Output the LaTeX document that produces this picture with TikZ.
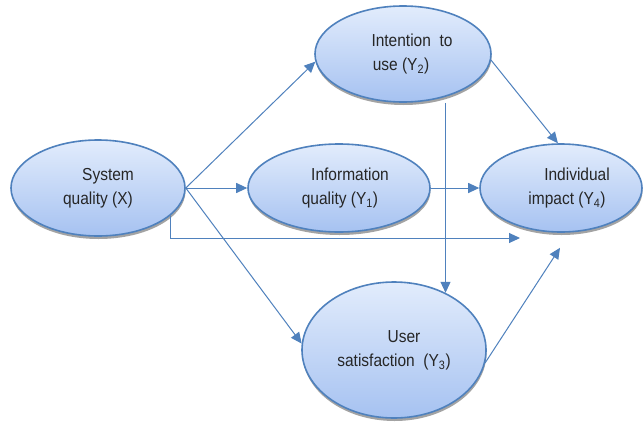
\documentclass[tikz,border=0pt]{standalone}
\usepackage{fontspec}
\setmainfont{Liberation Sans}
\usetikzlibrary{shapes.geometric,arrows.meta,shadows}
\definecolor{edgeblue}{HTML}{4F81BD}
\definecolor{filltop}{HTML}{E2ECFC}
\definecolor{fillbot}{HTML}{A6C2F1}
\definecolor{txt}{HTML}{262626}
\newcommand{\txtline}[2]{\makebox[0pt]{\hspace*{#1}\scalebox{1}[1.12]{#2}}}
\tikzset{
  var/.style={ellipse, draw=edgeblue, line width=1.6pt, inner sep=0pt,
    top color=filltop, bottom color=fillbot, text=txt, align=center,
    font={\fontsize{15.5pt}{24pt}\selectfont},
    drop shadow={shadow xshift=0.5pt, shadow yshift=-3pt, fill=black!45, opacity=0.8}},
  arr/.style={draw=edgeblue, line width=1pt, -{Triangle[length=11pt,width=10pt]}}
}
\begin{document}
\begin{tikzpicture}[x=1pt,y=-1pt]
\fill[white] (0,0) rectangle (644,423);
\useasboundingbox (0,0) rectangle (644,423);
\node[var, minimum width=174pt, minimum height=96pt] (sq) at (98,188)
  {\txtline{20pt}{System}\\\txtline{0pt}{quality (X)}};
\node[var, minimum width=176pt, minimum height=96pt] (iu) at (403,54)
  {\txtline{18pt}{Intention\ \ to}\\\txtline{-4pt}{use (Y\textsubscript{2})}};
\node[var, minimum width=182pt, minimum height=88pt] (iy) at (339,188)
  {\txtline{22pt}{Information}\\\txtline{2pt}{quality (Y\textsubscript{1})}};
\node[var, minimum width=162pt, minimum height=88pt] (ii) at (561,188)
  {\txtline{32pt}{Individual}\\\txtline{12pt}{impact (Y\textsubscript{4})}};
\node[var, minimum width=184pt, minimum height=136pt] (us) at (394,350)
  {\txtline{20pt}{User}\\\txtline{0pt}{satisfaction\ \ (Y\textsubscript{3})}};
\draw[arr] (sq.east) -- (iu.185);
\draw[arr] (sq.east) -- (iy.west);
\draw[arr] (sq.east) -- (us.176);
\draw[arr] (sq.-21) |- ([xshift=-41pt,yshift=-50pt]ii.center);
\draw[arr] (iy.east) -- (ii.west);
\draw[arr] (iu.-4) -- (ii.94);
\draw[arr] (iu.south -| us.48) -- (us.48);
\draw[arr] (us.-8) -- ([xshift=-1pt,yshift=-15pt]ii.south);
\end{tikzpicture}
\end{document}
